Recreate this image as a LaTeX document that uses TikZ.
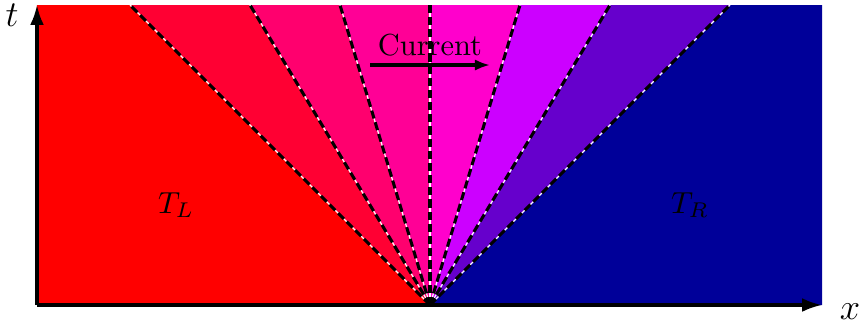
\documentclass[tikz,border=0pt]{standalone}
\usepackage{tikz}
\definecolor{fanA}{RGB}{255, 0, 0}
\definecolor{fanB}{RGB}{255, 0, 51}
\definecolor{fanC}{RGB}{255, 0, 110}
\definecolor{fanD}{RGB}{255, 0, 150}
\definecolor{fanE}{RGB}{255, 0, 204}
\definecolor{fanF}{RGB}{204, 0, 255}
\definecolor{fanG}{RGB}{102, 0, 204}
\definecolor{fanH}{RGB}{0, 0, 153}
\usetikzlibrary{arrows.meta, positioning, calc}

\begin{document}
\begin{tikzpicture}[x=1.155cm, y=1.155cm,
    wave/.style={line width=1pt, dash pattern=on 2.7pt off 1.3pt},
    waveback/.style={white, line width=0.4pt},
    axis/.style={line width=1pt, -{Latex[length=6.5pt, width=4.5pt]}}
]
    \useasboundingbox (-4.30,-0.20) rectangle (4.31,3.05);

    % Corners and fan ends
    \coordinate (O) at (0,0);
    \coordinate (bl) at (-3.93,0);
    \coordinate (tl) at (-3.93,3);
    \coordinate (br) at (3.92,0);
    \coordinate (tr) at (3.92,3);
    \coordinate (f1) at (-3,3);
    \coordinate (f2) at (-1.8,3);
    \coordinate (f3) at (-0.9,3);
    \coordinate (f4) at (0,3);
    \coordinate (f5) at (0.9,3);
    \coordinate (f6) at (1.8,3);
    \coordinate (f7) at (3,3);

    % Regions
    \fill[fanA] (bl) -- (O) -- (f1) -- (tl) -- cycle;
    \fill[fanB] (O) -- (f1) -- (f2) -- cycle;
    \fill[fanC] (O) -- (f2) -- (f3) -- cycle;
    \fill[fanD] (O) -- (f3) -- (f4) -- cycle;
    \fill[fanE] (O) -- (f4) -- (f5) -- cycle;
    \fill[fanF] (O) -- (f5) -- (f6) -- cycle;
    \fill[fanG] (O) -- (f6) -- (f7) -- cycle;
    \fill[fanH] (O) -- (f7) -- (tr) -- (br) -- cycle;

    % Rarefaction fan
    \foreach \f in {f1,f2,f3,f4,f5,f6,f7} {
        \draw[waveback] (O) -- (\f);
        \draw[wave] (O) -- (\f);
    }

    % Axes
    \draw[axis] (bl) -- (tl);
    \draw[axis] (bl) -- (br);
    \node (tlab) at (-4.18,2.90) {\large $t$};
    \node (xlab) at (4.20,-0.07) {\large $x$};

    % Labels
    \node (TL) at (-2.54,1.0) {$T_L$};
    \node (TR) at (2.60,1.0) {$T_R$};
    \node (cur) at (0,2.60) {Current};
    \coordinate (c1) at (-0.60,2.40);
    \coordinate (c2) at (0.60,2.40);
    \draw[-{Latex[length=5pt]}, line width=1pt] (c1) -- (c2);
\end{tikzpicture}
\end{document}
